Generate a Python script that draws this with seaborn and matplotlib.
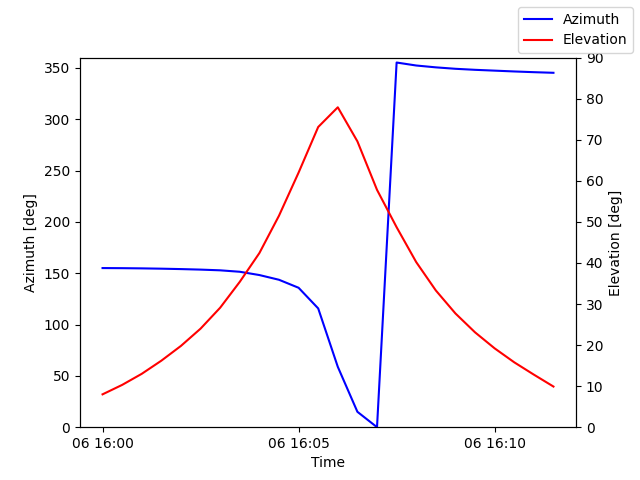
import numpy as np
import pandas as pd
import matplotlib
matplotlib.use('Agg')
import matplotlib.pyplot as plt
import seaborn as sns

# pass samples every 30 s
times = pd.date_range('2024-01-06 16:00:00', periods=24, freq='30s')
azimuth = [155.0, 154.9, 154.7, 154.4, 154.0, 153.5, 152.8, 151.4, 148.2,
           143.6, 135.8, 115.7, 58.8, 15.0, 0.0, 355.2, 352.3, 350.5,
           349.1, 348.1, 347.3, 346.5, 345.8, 345.2]
elevation = [8.0, 10.3, 13.0, 16.2, 19.8, 24.0, 29.1, 35.4, 42.4, 51.5,
             62.0, 73.1, 77.9, 69.6, 57.8, 48.7, 40.2, 33.3, 27.7, 23.1,
             19.2, 15.8, 12.8, 9.9]

df = pd.DataFrame({'Time': times, 'Azimuth': azimuth, 'Elevation': elevation})

fig, ax = plt.subplots(figsize=(6.4, 4.8), dpi=100)
sns.lineplot(data=df, x='Time', y='Azimuth', color='blue', label='Azimuth', ax=ax, legend=False)
ax2 = ax.twinx()
sns.lineplot(data=df, x='Time', y='Elevation', color='red', label='Elevation', ax=ax2, legend=False)

ax.set_ylim(0, 360)
ax2.set_ylim(0, 90)
ax.set_xlabel('Time')
ax.set_ylabel('Azimuth [deg]')
ax2.set_ylabel('Elevation [deg]')

fig.legend()
plt.savefig('out.png')
